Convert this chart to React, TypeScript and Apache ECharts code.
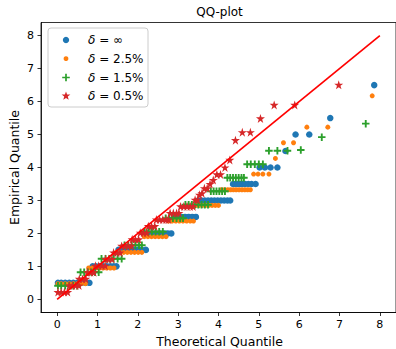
import React, { useEffect, useRef } from "react";
import * as echarts from "echarts";

// ---- data ----
const seriesNames = ["δ = ∞", "δ = 2.5%", "δ = 1.5%", "δ = 0.5%"];
const legendValues = ["∞", "2.5%", "1.5%", "0.5%"];
const xTicks = [0, 1, 2, 3, 4, 5, 6, 7, 8];
const yTicks = [0, 1, 2, 3, 4, 5, 6, 7, 8];
const refLineX = [0, 8];
const refLineY = [0, 8];

// δ = ∞  (theoretical, empirical)
const pointsInf: [number, number][] = [
  [0.02, 0.5], [0.1, 0.5], [0.2, 0.5], [0.3, 0.5], [0.4, 0.5], [0.5, 0.5], [0.6, 0.5], [0.7, 0.5], [0.8, 0.5],
  [0.88, 1.0], [0.96, 1.0], [1.05, 1.0], [1.14, 1.0], [1.23, 1.0], [1.32, 1.0], [1.4, 1.0], [1.47, 1.0],
  [1.52, 1.5], [1.6, 1.5], [1.7, 1.5], [1.8, 1.5], [1.9, 1.5], [2.0, 1.5], [2.1, 1.5], [2.2, 1.5],
  [2.26, 2.0], [2.35, 2.0], [2.45, 2.0], [2.55, 2.0], [2.65, 2.0], [2.74, 2.0], [2.83, 2.0],
  [2.9, 2.5], [2.99, 2.5], [3.08, 2.5], [3.17, 2.5], [3.26, 2.5], [3.35, 2.5], [3.44, 2.5],
  [3.5, 3.0], [3.58, 3.0], [3.66, 3.0], [3.74, 3.0], [3.82, 3.0], [3.9, 3.0], [3.98, 3.0], [4.06, 3.0], [4.14, 3.0], [4.22, 3.0], [4.29, 3.0],
  [4.36, 3.5], [4.42, 3.5], [4.48, 3.5], [4.53, 3.5], [4.59, 3.5], [4.66, 3.5], [4.74, 3.5], [4.82, 3.5], [4.92, 3.5],
  [5.02, 4.0], [5.15, 4.0], [5.29, 4.0], [5.46, 4.0],
  [5.66, 4.5], [5.91, 5.0], [6.25, 5.0], [6.77, 5.5], [7.86, 6.5],
];

// δ = 2.5%
const points25: [number, number][] = [
  [0.02, 0.475], [0.1, 0.475], [0.2, 0.475], [0.3, 0.475], [0.4, 0.475], [0.5, 0.475], [0.6, 0.475], [0.7, 0.475],
  [0.78, 0.95], [0.87, 0.95], [0.96, 0.95], [1.05, 0.95], [1.14, 0.95], [1.23, 0.95], [1.32, 0.95], [1.41, 0.95],
  [1.47, 1.425], [1.56, 1.425], [1.65, 1.425], [1.74, 1.425], [1.83, 1.425], [1.92, 1.425], [2.01, 1.425], [2.1, 1.425],
  [2.16, 1.9], [2.25, 1.9], [2.34, 1.9], [2.43, 1.9], [2.52, 1.9], [2.61, 1.9], [2.7, 1.9],
  [2.76, 2.375], [2.85, 2.375], [2.94, 2.375], [3.03, 2.375], [3.12, 2.375], [3.21, 2.375], [3.3, 2.375], [3.38, 2.375],
  [3.45, 2.85], [3.52, 2.85], [3.6, 2.85], [3.68, 2.85], [3.76, 2.85], [3.84, 2.85], [3.92, 2.85], [4.0, 2.85],
  [4.07, 3.325], [4.15, 3.325], [4.23, 3.325], [4.3, 3.325], [4.37, 3.325], [4.44, 3.325], [4.51, 3.325], [4.58, 3.325], [4.65, 3.325], [4.72, 3.325], [4.79, 3.325],
  [4.87, 3.8], [4.98, 3.8], [5.1, 3.8], [5.25, 3.8],
  [5.41, 4.275], [5.61, 4.75], [5.86, 4.75], [6.19, 5.225], [6.71, 5.225], [7.81, 6.175],
];

// δ = 1.5%
const points15: [number, number][] = [
  [0.02, 0.41], [0.1, 0.41], [0.2, 0.41], [0.3, 0.41], [0.4, 0.41], [0.5, 0.41],
  [0.58, 0.82], [0.67, 0.82], [0.76, 0.82], [0.85, 0.82], [0.94, 0.82], [1.03, 0.82],
  [1.1, 1.23], [1.2, 1.23], [1.3, 1.23], [1.4, 1.23], [1.5, 1.23], [1.6, 1.23],
  [1.67, 1.64], [1.76, 1.64], [1.85, 1.64], [1.94, 1.64], [2.03, 1.64], [2.1, 1.64],
  [2.17, 2.05], [2.26, 2.05], [2.35, 2.05], [2.44, 2.05], [2.53, 2.05], [2.62, 2.05],
  [2.69, 2.46], [2.78, 2.46], [2.87, 2.46], [2.96, 2.46], [3.05, 2.46], [3.12, 2.46],
  [3.18, 2.87], [3.26, 2.87], [3.34, 2.87], [3.42, 2.87], [3.5, 2.87], [3.58, 2.87], [3.66, 2.87], [3.74, 2.87],
  [3.81, 3.28], [3.88, 3.28], [3.95, 3.28], [4.02, 3.28], [4.09, 3.28], [4.16, 3.28],
  [4.22, 3.69], [4.29, 3.69], [4.36, 3.69], [4.43, 3.69], [4.5, 3.69], [4.57, 3.69], [4.63, 3.69],
  [4.71, 4.1], [4.8, 4.1], [4.9, 4.1], [5.0, 4.1], [5.1, 4.1],
  [5.25, 4.51], [5.46, 4.51], [5.71, 4.51], [6.04, 4.53],
  [6.56, 4.92], [7.65, 5.33],
];

// δ = 0.5%
const points05: [number, number][] = [
  [0.02, 0.22], [0.1, 0.22], [0.18, 0.22], [0.26, 0.22],
  [0.3, 0.42], [0.38, 0.42], [0.46, 0.42], [0.54, 0.42],
  [0.55, 0.62], [0.63, 0.62], [0.71, 0.62],
  [0.75, 0.82], [0.83, 0.82], [0.91, 0.82],
  [0.95, 1.02], [1.03, 1.02], [1.11, 1.02], [1.19, 1.02],
  [1.2, 1.22], [1.28, 1.22], [1.36, 1.22],
  [1.4, 1.42], [1.48, 1.42], [1.56, 1.42],
  [1.6, 1.62], [1.68, 1.62], [1.76, 1.62], [1.84, 1.62],
  [1.86, 1.82], [1.94, 1.82], [2.02, 1.82],
  [2.06, 2.02], [2.14, 2.02], [2.22, 2.02],
  [2.26, 2.22], [2.34, 2.22], [2.42, 2.22],
  [2.46, 2.42], [2.54, 2.42], [2.62, 2.42], [2.7, 2.42], [2.76, 2.42],
  [2.8, 2.62], [2.88, 2.62], [2.96, 2.62], [3.02, 2.62],
  [3.06, 2.82], [3.14, 2.82], [3.22, 2.82], [3.3, 2.82], [3.37, 2.82],
  [3.42, 3.02], [3.48, 3.02],
  [3.53, 3.17], [3.59, 3.22], [3.65, 3.37], [3.72, 3.37], [3.79, 3.5], [3.87, 3.62],
  [3.96, 3.79], [4.05, 3.79], [4.16, 4.0], [4.28, 4.23], [4.42, 4.83], [4.59, 5.07],
  [4.79, 5.07], [5.04, 5.49], [5.38, 5.9], [5.89, 5.9], [6.98, 6.51],
];

const colors = ["#1f77b4", "#ff7f0e", "#2ca02c", "#d62728"];
const FONT = "DejaVu Sans";

const plusPath = "path://M3,0L5,0L5,3L8,3L8,5L5,5L5,8L3,8L3,5L0,5L0,3L3,3Z";
const starPath =
  "path://M50,0L61.8,36.2L100,36.2L69.1,58.8L80.9,95.1L50,72.6L19.1,95.1L30.9,58.8L0,36.2L38.2,36.2Z";

function plusPoly(cx: number, cy: number, h: number, t: number) {
  return [
    [cx - t, cy - h], [cx + t, cy - h], [cx + t, cy - t], [cx + h, cy - t],
    [cx + h, cy + t], [cx + t, cy + t], [cx + t, cy + h], [cx - t, cy + h],
    [cx - t, cy + t], [cx - h, cy + t], [cx - h, cy - t], [cx - t, cy - t],
  ];
}
function starPoly(cx: number, cy: number, ro: number, ri: number) {
  const pts: number[][] = [];
  for (let i = 0; i < 10; i++) {
    const r = i % 2 === 0 ? ro : ri;
    const a = -Math.PI / 2 + (i * Math.PI) / 5;
    pts.push([cx + r * Math.cos(a), cy + r * Math.sin(a)]);
  }
  return pts;
}

export default function App() {
  const ref = useRef<HTMLDivElement>(null);
  useEffect(() => {
    if (!ref.current) return;
    const chart = echarts.init(ref.current, null, { renderer: "svg" });
    const legendY = [40, 58.7, 77.5, 96.3];
    const legendX = 66;
    const legendGraphics: any[] = [
      {
        type: "rect",
        shape: { x: 48, y: 28, width: 100, height: 79, r: 3 },
        style: { fill: "rgba(255,255,255,0.8)", stroke: "#cccccc", lineWidth: 1 },
        z: 100,
      },
      { type: "circle", shape: { cx: legendX, cy: legendY[0], r: 3.2 }, style: { fill: colors[0] }, z: 101 },
      { type: "circle", shape: { cx: legendX, cy: legendY[1], r: 2.4 }, style: { fill: colors[1] }, z: 101 },
      { type: "polygon", shape: { points: plusPoly(legendX, legendY[2], 3.8, 0.85) }, style: { fill: colors[2] }, z: 101 },
      { type: "polygon", shape: { points: starPoly(legendX, legendY[3] - 0.3, 4.6, 1.9) }, style: { fill: colors[3] }, z: 101 },
    ];
    legendValues.forEach((v, i) => {
      legendGraphics.push({
        type: "text",
        x: 88,
        y: legendY[i],
        z: 101,
        style: {
          text: "{d|δ} = " + v,
          fontFamily: FONT,
          fontSize: 12,
          fill: "#000",
          verticalAlign: "middle",
          align: "left",
          rich: { d: { fontStyle: "italic", fontFamily: FONT, fontSize: 12, fill: "#000" } },
        },
      });
    });

    const scatterDefs = [
      { data: pointsInf, symbol: "circle", size: 6.5 },
      { data: points25, symbol: "circle", size: 5 },
      { data: points15, symbol: plusPath, size: 7.5 },
      { data: points05, symbol: starPath, size: 9 },
    ];

    const option: any = {
      animation: false,
      backgroundColor: "#ffffff",
      textStyle: { fontFamily: FONT },
      grid: {
        left: 41,
        top: 22.5,
        width: 357,
        height: 290,
        show: true,
        borderColor: "#000",
        borderWidth: 0.8,
        backgroundColor: "transparent",
      },
      xAxis: {
        type: "value",
        min: -0.4,
        max: 8.4,
        axisLine: { onZero: false, lineStyle: { color: "#000", width: 0.8 } },
        axisTick: { show: true, length: 3.5, lineStyle: { color: "#000", width: 0.8 }, customValues: xTicks },
        axisLabel: { color: "#000", fontFamily: FONT, fontSize: 11, margin: 6, customValues: xTicks },
        splitLine: { show: false },
      },
      yAxis: {
        type: "value",
        min: -0.4,
        max: 8.4,
        axisLine: { onZero: false, lineStyle: { color: "#000", width: 0.8 } },
        axisTick: { show: true, length: 3.5, lineStyle: { color: "#000", width: 0.8 }, customValues: yTicks },
        axisLabel: { color: "#000", fontFamily: FONT, fontSize: 11, margin: 7, customValues: yTicks },
        splitLine: { show: false },
      },
      series: [
        ...scatterDefs.map((d, i) => ({
          name: seriesNames[i],
          type: "scatter",
          data: d.data,
          symbol: d.symbol,
          symbolSize: d.size,
          itemStyle: { color: colors[i], opacity: 1 },
          z: 2 + i,
        })),
        {
          name: "ref",
          type: "line",
          data: refLineX.map((x, i) => [x, refLineY[i]]),
          symbol: "none",
          lineStyle: { color: "#ff0000", width: 1.7 },
          z: 10,
        },
      ],
      graphic: [
        {
          type: "text",
          x: 219.5,
          y: 12,
          style: { text: "QQ-plot", fontFamily: FONT, fontSize: 12, fill: "#000", align: "center", verticalAlign: "middle" },
        },
        {
          type: "text",
          x: 219.5,
          y: 341.5,
          style: { text: "Theoretical Quantile", fontFamily: FONT, fontSize: 12.5, fill: "#000", align: "center", verticalAlign: "middle" },
        },
        {
          type: "text",
          x: 14,
          y: 167.5,
          rotation: Math.PI / 2,
          style: { text: "Empirical Quantile", fontFamily: FONT, fontSize: 12.5, fill: "#000", align: "center", verticalAlign: "middle" },
        },
        ...legendGraphics,
      ],
    };
    chart.setOption(option);
    return () => chart.dispose();
  }, []);
  return (
    <div
      ref={ref}
      style={{ position: "absolute", left: 0, top: 0, width: 396, height: 349, background: "#fff" }}
    />
  );
}
